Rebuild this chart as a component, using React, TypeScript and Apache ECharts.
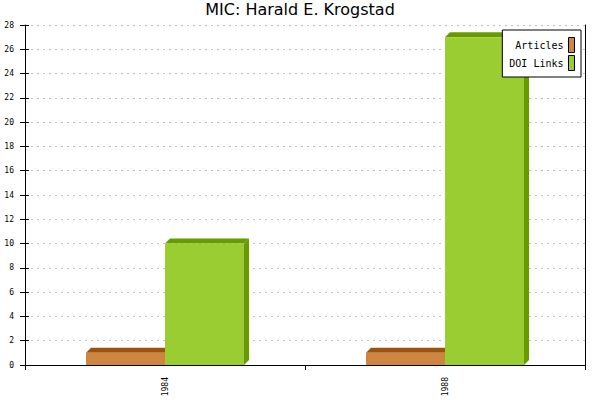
import React, { useEffect, useRef } from "react";
import * as echarts from "echarts";

const title = "MIC: Harald E. Krogstad";
const categories = ["1984", "1988"];
const articles = [1, 1];
const doiLinks = [10, 27];
const MONO = "'DejaVu Sans Mono', monospace";

const BAR_W = 79;
const DEPTH = 5;

function makeBar3D(side: number, front: string, shade: string) {
  return (_params: any, api: any) => {
    const idx = api.value(0);
    const val = api.value(1);
    const top = api.coord([idx, val]);
    const base = api.coord([idx, 0]);
    const x0 = top[0] + (side < 0 ? -BAR_W : 0);
    const x1 = x0 + BAR_W;
    const yT = top[1];
    const yB = base[1];
    return {
      type: "group",
      children: [
        {
          type: "polygon",
          shape: { points: [[x0, yT], [x0 + DEPTH, yT - DEPTH], [x1 + DEPTH, yT - DEPTH], [x1, yT]] },
          style: { fill: shade },
        },
        {
          type: "polygon",
          shape: { points: [[x1, yT], [x1 + DEPTH, yT - DEPTH], [x1 + DEPTH, yB - DEPTH], [x1, yB]] },
          style: { fill: shade },
        },
        {
          type: "rect",
          shape: { x: x0, y: yT, width: BAR_W, height: yB - yT },
          style: { fill: front },
        },
      ],
    };
  };
}

export default function App() {
  const ref = useRef<HTMLDivElement>(null);
  useEffect(() => {
    const chart = echarts.init(ref.current!, undefined, { renderer: "svg" });
    const axisBlack = { lineStyle: { color: "#000", width: 1 } };
    chart.setOption({
      animation: false,
      backgroundColor: "#fff",
      title: {
        text: title,
        left: "center",
        top: -4,
        textStyle: { fontFamily: "'DejaVu Sans', sans-serif", fontSize: 16, fontWeight: "normal", color: "#000" },
      },
      grid: { left: 25, right: 15, top: 25, bottom: 35 },
      legend: {
        right: 19,
        top: 30,
        orient: "vertical",
        align: "right",
        icon: "rect",
        itemWidth: 6,
        itemHeight: 15,
        itemGap: 2,
        padding: [7, 6, 6, 7],
        backgroundColor: "#fff",
        borderColor: "#000",
        borderWidth: 1,
        textStyle: { fontFamily: MONO, fontSize: 10, color: "#000" },
        data: [
          { name: "Articles", itemStyle: { color: "#CD853F", borderColor: "#000", borderWidth: 1 } },
          { name: "DOI Links", itemStyle: { color: "#9ACD32", borderColor: "#000", borderWidth: 1 } },
        ],
      },
      xAxis: {
        type: "category",
        data: categories,
        axisLine: { ...axisBlack, onZero: false },
        axisTick: { show: true, length: 5, alignWithLabel: false, lineStyle: { color: "#000" } },
        axisLabel: { rotate: 90, margin: 12, fontSize: 8, color: "#000", fontFamily: MONO, interval: 0 },
        splitLine: { show: false },
      },
      yAxis: [
        {
          type: "value",
          min: 0,
          max: 28,
          interval: 2,
          axisLine: { show: true, ...axisBlack },
          axisTick: { show: true, length: 5, lineStyle: { color: "#000" } },
          axisLabel: { margin: 11, fontSize: 8, color: "#000", fontFamily: MONO },
          splitLine: { show: true, lineStyle: { color: "#c0c0c0", width: 1, type: [2, 4] } },
        },
        {
          type: "value",
          position: "left",
          min: 0,
          max: 28,
          interval: 2,
          axisLine: { show: false, onZero: false },
          axisTick: { show: true, inside: true, length: 4, lineStyle: { color: "#000" } },
          axisLabel: { show: false },
          splitLine: { show: false },
        },
        {
          type: "value",
          position: "right",
          min: 0,
          max: 28,
          interval: 2,
          axisLine: { show: true, onZero: false, ...axisBlack },
          axisTick: { show: false },
          axisLabel: { show: false },
          splitLine: { show: false },
        },
      ],
      series: [
        {
          name: "Articles",
          type: "custom",
          clip: false,
          itemStyle: { color: "#CD853F" },
          encode: { x: 0, y: 1 },
          data: categories.map((_, i) => [i, articles[i]]),
          renderItem: makeBar3D(-1, "#CD853F", "#9B530D"),
        },
        {
          name: "DOI Links",
          type: "custom",
          clip: false,
          itemStyle: { color: "#9ACD32" },
          encode: { x: 0, y: 1 },
          data: categories.map((_, i) => [i, doiLinks[i]]),
          renderItem: makeBar3D(1, "#9ACD32", "#689B00"),
        },
      ],
    });
    return () => chart.dispose();
  }, []);
  return <div ref={ref} style={{ position: "absolute", left: 0, top: 0, width: 600, height: 400 }} />;
}
